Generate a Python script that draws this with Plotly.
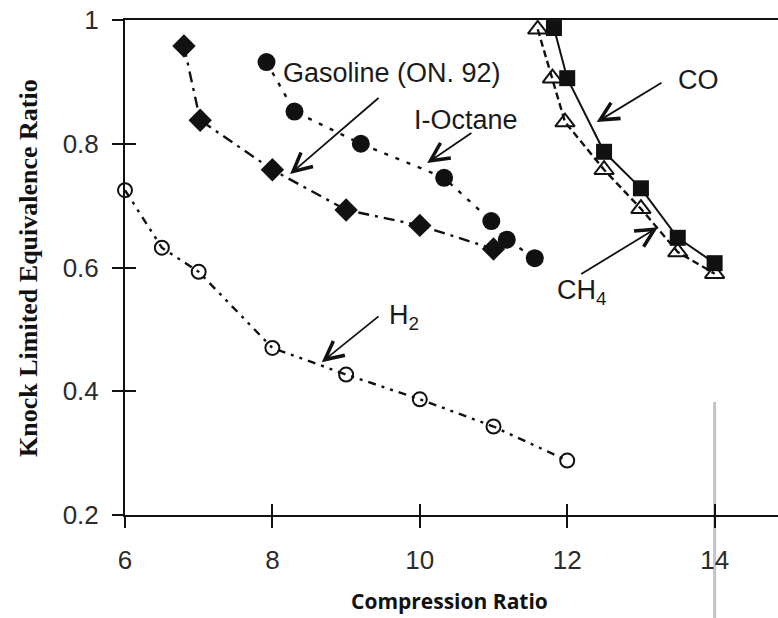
import plotly.graph_objects as go

# Knock-limited equivalence ratio vs compression ratio for several fuels
cr_h2 = [6.0, 6.5, 7.0, 8.0, 9.0, 10.0, 11.0, 12.0]
phi_h2 = [0.725, 0.632, 0.593, 0.470, 0.427, 0.387, 0.343, 0.288]

cr_gas = [6.8, 7.02, 8.0, 9.0, 10.0, 11.0]
phi_gas = [0.958, 0.838, 0.758, 0.693, 0.668, 0.630]

cr_oct = [7.92, 8.3, 9.2, 10.33, 10.97, 11.18, 11.56]
phi_oct = [0.932, 0.852, 0.800, 0.745, 0.675, 0.645, 0.615]

cr_co = [11.82, 12.0, 12.5, 13.0, 13.5, 14.0]
phi_co = [0.987, 0.906, 0.787, 0.728, 0.648, 0.607]

cr_ch4 = [11.6, 11.8, 11.97, 12.5, 13.0, 13.5, 14.0]
phi_ch4 = [0.985, 0.906, 0.835, 0.758, 0.695, 0.625, 0.590]

x_ticks = [6, 8, 10, 12, 14]
y_ticks = [0.2, 0.4, 0.6, 0.8, 1.0]
y_tick_text = ["0.2", "0.4", "0.6", "0.8", "1"]
x_range = [6, 14.86]
y_range = [0.2, 1.0]

# (label, text x, text y, arrow tail x, tail y, arrow head x, head y)
labels = [
    ("Gasoline (ON. 92)", 8.11, 0.915, 9.46, 0.876, 8.24, 0.751),
    ("I-Octane", 9.90, 0.838, 10.72, 0.819, 10.10, 0.769),
    ("CO", 13.47, 0.903, 13.30, 0.900, 12.40, 0.835),
    ("CH<sub>4</sub>", 11.84, 0.560, 12.17, 0.588, 13.23, 0.665),
    ("H<sub>2</sub>", 9.55, 0.520, 9.46, 0.523, 8.67, 0.447),
]

INK = "#111111"
SANS = "Liberation Sans, Arial, sans-serif"

fig = go.Figure()

def add_series(x, y, symbol, size, dash, width=2.4, open_marker=False):
    marker = dict(symbol=symbol, size=size, color=INK,
                  line=dict(color=INK, width=2 if open_marker else 0))
    fig.add_trace(go.Scatter(
        x=x, y=y, mode="lines+markers",
        line=dict(color=INK, width=width, dash=dash),
        marker=marker, cliponaxis=False, showlegend=False,
    ))

add_series(cr_h2, phi_h2, "circle-open", 14, "8px,6px,3px,6px,3px,6px", open_marker=True)
add_series(cr_gas, phi_gas, "diamond", 18, "11px,6px,3px,6px")
add_series(cr_oct, phi_oct, "circle", 18, "4px,8px")
add_series(cr_ch4, phi_ch4, "triangle-up-open", 17, "7px,4px", open_marker=True)
add_series(cr_co, phi_co, "square", 16, "solid", width=2)

# empty traces so the overlay axes (inner half of the crossing ticks) get drawn
fig.add_trace(go.Scatter(x=[], y=[], xaxis="x2", yaxis="y", showlegend=False))
fig.add_trace(go.Scatter(x=[], y=[], xaxis="x", yaxis="y2", showlegend=False))

for text, tx, ty, ax, ay, hx, hy in labels:
    fig.add_annotation(x=tx, y=ty, xref="x", yref="y", text=text, showarrow=False,
                       xanchor="left", yanchor="middle",
                       font=dict(family=SANS, size=27, color="#1a1a1a"))
    fig.add_annotation(x=hx, y=hy, ax=ax, ay=ay, xref="x", yref="y",
                       axref="x", ayref="y", text="", showarrow=True,
                       arrowhead=5, arrowsize=2.0, arrowwidth=1.8,
                       arrowcolor=INK, standoff=0)

# axis titles, placed in paper coordinates around the plot area
fig.add_annotation(x=(449 - 125) / 653, y=(515 - 601) / 495, xref="paper", yref="paper",
                   text="Compression Ratio", showarrow=False, xanchor="center", yanchor="middle",
                   font=dict(family="Open Sans, sans-serif", size=21, color="#111", weight="bold"))
fig.add_annotation(x=(28 - 125) / 653, y=(515 - 268) / 495, xref="paper", yref="paper",
                   text="Knock Limited Equivalence Ratio", showarrow=False, textangle=-90,
                   xanchor="center", yanchor="middle",
                   font=dict(family="Liberation Serif, Times New Roman, serif", size=26,
                             color="#111", weight="bold"))

# faint vertical rule at CR 14 below the curves
fig.add_shape(type="line", xref="x", yref="paper", x0=14, x1=14,
              y0=(515 - 402) / 495, y1=(515 - 618) / 495,
              line=dict(color="#c4c4c4", width=3), layer="below")

tick_font = dict(family=SANS, size=26, color="#2b2b2b")
common = dict(showgrid=False, zeroline=False, fixedrange=True)

fig.update_layout(
    width=778, height=618,
    margin=dict(l=125, r=0, t=20, b=103),
    paper_bgcolor="white", plot_bgcolor="white",
    xaxis=dict(range=x_range, tickvals=x_ticks, ticks="outside", ticklen=11,
               tickwidth=2, tickcolor=INK, showline=True, linewidth=2, linecolor=INK,
               mirror=True, tickfont=tick_font, ticklabelstandoff=10, **common),
    yaxis=dict(range=y_range, tickvals=y_ticks, ticktext=y_tick_text, ticks="outside",
               ticklen=11, tickwidth=2, tickcolor=INK, showline=True, linewidth=2,
               linecolor=INK, tickfont=tick_font, ticklabelstandoff=8, **common),
    xaxis2=dict(overlaying="x", anchor="y", side="bottom", range=x_range,
                tickvals=x_ticks, ticks="inside", ticklen=11, tickwidth=2,
                tickcolor=INK, showticklabels=False, showline=False, **common),
    yaxis2=dict(overlaying="y", anchor="x", side="left", range=y_range,
                tickvals=y_ticks, ticks="inside", ticklen=11, tickwidth=2,
                tickcolor=INK, showticklabels=False, showline=False, **common),
)

fig.write_html("out.html")
